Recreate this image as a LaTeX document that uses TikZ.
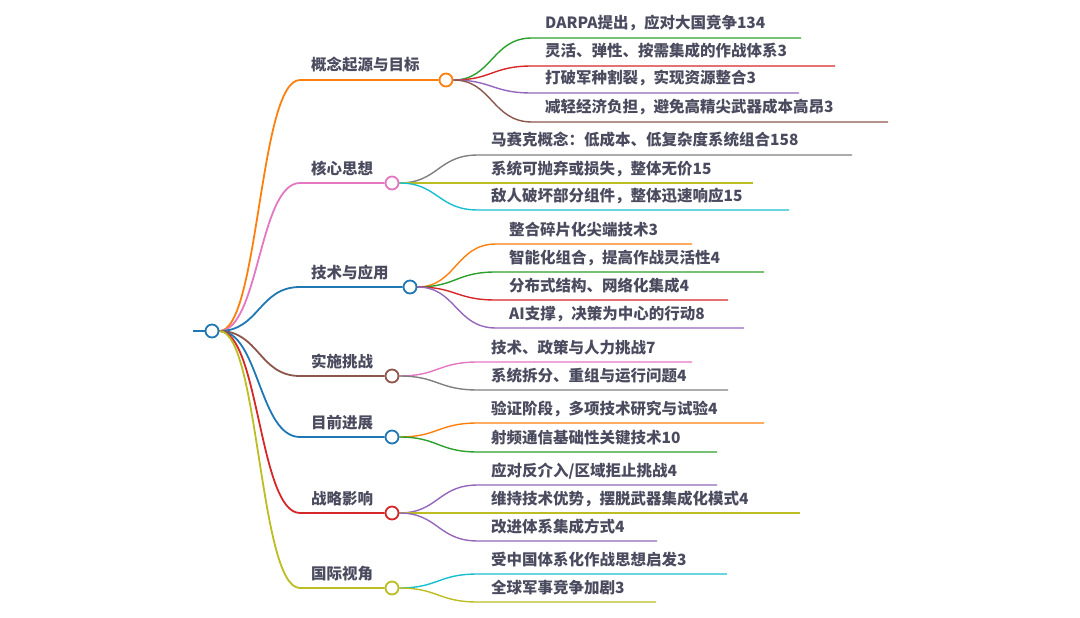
\documentclass[tikz,border=0pt]{standalone}
\usepackage{fontspec}
\setmainfont{Noto Sans CJK SC}
\usetikzlibrary{calc}
\definecolor{cOrange}{HTML}{FF7F0E}
\definecolor{cGreen}{HTML}{2CA02C}
\definecolor{cRed}{HTML}{D62728}
\definecolor{cPurple}{HTML}{9467BD}
\definecolor{cBrown}{HTML}{8C564B}
\definecolor{cPink}{HTML}{E377C2}
\definecolor{cGray}{HTML}{7F7F7F}
\definecolor{cOlive}{HTML}{BCBD22}
\definecolor{cCyan}{HTML}{17BECF}
\definecolor{cBlue}{HTML}{1F77B4}
\definecolor{txt}{HTML}{4B4B5F}
\pgfdeclarelayer{bg}
\pgfsetlayers{bg,main}
\tikzset{
  dotnode/.style={circle, draw=#1, line width=1.8pt, fill=white, minimum size=13pt, inner sep=0pt},
  lvlone/.style={line width=1.8pt},
  lvltwo/.style={line width=1.4pt},
  lbl/.style={text=txt, font=\bfseries\fontsize{15.5}{16}\selectfont, inner sep=0pt, anchor=base west},
}
% #1 parent node, #2 parent x, #3 parent y, #4 colour, #5 child y, #6 end x, #7 node name, #8 text
\newcommand{\mmleaf}[8]{%
  \begin{pgfonlayer}{bg}
  \draw[#4, lvltwo] (#1.east) .. controls (#2+46,#3) and (#2+46,#5) .. (#2+86,#5) coordinate (#7-s) -- (#6,#5) coordinate (#7-e);
  \end{pgfonlayer}
  \node[lbl] (#7) at (#2+99,#5-9) {#8};
}
% #1 node name, #2 y, #3 colour, #4 circle x, #5 text
\newcommand{\mmbranch}[5]{%
  \node[dotnode=#3] (#1) at (#4,#2) {};
  \begin{pgfonlayer}{bg}
  \draw[#3, lvlone] (root.east) .. controls (259,331) and (259,#2) .. (300,#2) coordinate (#1-s) -- (#1.west);
  \end{pgfonlayer}
  \node[lbl] (#1-t) at (311,#2-9) {#5};
}
\begin{document}
\begin{tikzpicture}[x=1pt,y=-1pt]
\useasboundingbox (0,0) rectangle (1080,618);
\node[dotnode=cBlue] (root) at (212,331) {};
\coordinate (stub) at (193,331);
\begin{pgfonlayer}{bg}
\draw[cBlue, lvlone] (stub) -- (root.west);
\end{pgfonlayer}

\mmbranch{g1}{80}{cOrange}{446}{概念起源与目标}
\mmbranch{g2}{183}{cPink}{392}{核心思想}
\mmbranch{g3}{287}{cBlue}{410}{技术与应用}
\mmbranch{g4}{376}{cBrown}{392}{实施挑战}
\mmbranch{g5}{437}{cBlue}{392}{目前进展}
\mmbranch{g6}{513}{cRed}{392}{战略影响}
\mmbranch{g7}{588}{cOlive}{392}{国际视角}

\mmleaf{g1}{446}{80}{cGreen}{38}{801}{a1}{DARPA提出，应对大国竞争134}
\mmleaf{g1}{446}{80}{cRed}{66}{835}{a2}{灵活、弹性、按需集成的作战体系3}
\mmleaf{g1}{446}{80}{cPurple}{93}{799}{a3}{打破军种割裂，实现资源整合3}
\mmleaf{g1}{446}{80}{cBrown}{122}{888}{a4}{减轻经济负担，避免高精尖武器成本高昂3}

\mmleaf{g2}{392}{183}{cGray}{155}{852}{b1}{马赛克概念：低成本、低复杂度系统组合158}
\mmleaf{g2}{392}{183}{cOlive}{183}{753}{b2}{系统可抛弃或损失，整体无价15}
\mmleaf{g2}{392}{183}{cCyan}{210}{789}{b3}{敌人破坏部分组件，整体迅速响应15}

\mmleaf{g3}{410}{287}{cOrange}{244}{692}{c1}{整合碎片化尖端技术3}
\mmleaf{g3}{410}{287}{cGreen}{272}{764}{c2}{智能化组合，提高作战灵活性4}
\mmleaf{g3}{410}{287}{cRed}{300}{728}{c3}{分布式结构、网络化集成4}
\mmleaf{g3}{410}{287}{cPurple}{328}{744}{c4}{AI支撑，决策为中心的行动8}

\mmleaf{g4}{392}{376}{cPink}{362}{692}{d1}{技术、政策与人力挑战7}
\mmleaf{g4}{392}{376}{cGray}{390}{728}{d2}{系统拆分、重组与运行问题4}

\mmleaf{g5}{392}{437}{cOrange}{423}{764}{e1}{验证阶段，多项技术研究与试验4}
\mmleaf{g5}{392}{437}{cGreen}{452}{717}{e2}{射频通信基础性关键技术10}

\mmleaf{g6}{392}{513}{cPurple}{485}{717}{f1}{应对反介入/区域拒止挑战4}
\mmleaf{g6}{392}{513}{cOlive}{513}{800}{f2}{维持技术优势，摆脱武器集成化模式4}
\mmleaf{g6}{392}{513}{cPurple}{541}{657}{f3}{改进体系集成方式4}

\mmleaf{g7}{392}{588}{cCyan}{574}{727}{h1}{受中国体系化作战思想启发3}
\mmleaf{g7}{392}{588}{cOlive}{602}{656}{h2}{全球军事竞争加剧3}
\end{tikzpicture}
\end{document}
